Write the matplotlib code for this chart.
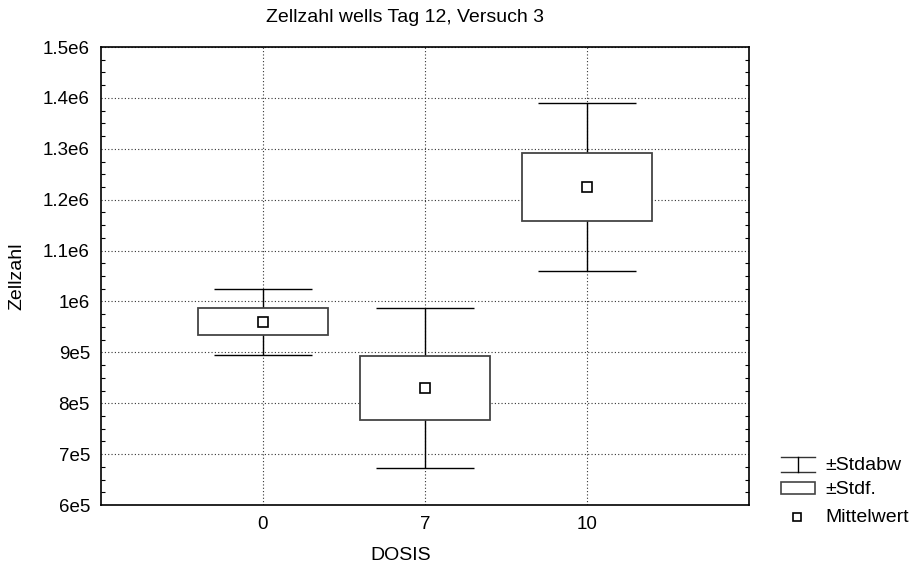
import matplotlib
matplotlib.use("Agg")
import matplotlib.pyplot as plt
from matplotlib.lines import Line2D
from matplotlib.patches import Rectangle
from matplotlib.ticker import MultipleLocator
import numpy as np

plt.rcParams["font.family"] = ["Liberation Sans", "DejaVu Sans"]

# ── data ──────────────────────────────────────
dosis = ["0", "7", "10"]
mittelwert = [9.60e5, 8.30e5, 1.225e6]
stdf = [2.65e4, 6.3e4, 6.7e4]        # ±Stdf. (box)
stdabw = [6.5e4, 1.57e5, 1.65e5]     # ±Stdabw (whiskers)
yticks = [6e5, 7e5, 8e5, 9e5, 1e6, 1.1e6, 1.2e6, 1.3e6, 1.4e6, 1.5e6]
ytick_labels = ["6e5", "7e5", "8e5", "9e5", "1e6", "1.1e6", "1.2e6", "1.3e6", "1.4e6", "1.5e6"]

W, H = 916, 568
FS = 14
fig = plt.figure(figsize=(W / 100, H / 100), dpi=100)


def px(x, y):
    """pixel (from top-left) -> figure fraction"""
    return x / W, 1 - y / H


ax = fig.add_axes([101 / W, 1 - 505 / H, (749 - 101) / W, (505 - 47) / H])

x = np.arange(len(dosis))
m = np.array(mittelwert)
se = np.array(stdf)
sd = np.array(stdabw)

box_c = "#444444"
# whiskers
ax.vlines(x, m - sd, m + sd, color="black", lw=1.0, zorder=2)
ax.hlines(m - sd, x - 0.3, x + 0.3, color="black", lw=1.0, zorder=2)
ax.hlines(m + sd, x - 0.3, x + 0.3, color="black", lw=1.0, zorder=2)
# boxes
ax.bar(x, 2 * se, bottom=m - se, width=0.8, color="white",
       edgecolor=box_c, linewidth=1.3, zorder=3)
# means
ax.plot(x, m, ls="none", marker="s", ms=7, mfc="white", mec="black",
        mew=1.2, zorder=4)

ax.set_xlim(-1, 3)
ax.set_ylim(6e5, 1.5e6)
ax.set_xticks(x)
ax.set_xticklabels(dosis, fontsize=FS - 0.5)
ax.set_yticks(yticks)
ax.set_yticklabels(ytick_labels, fontsize=FS - 0.5)
ax.yaxis.set_minor_locator(MultipleLocator(2.5e4))
ax.tick_params(axis="both", which="major", length=0, pad=8)
ax.tick_params(axis="y", which="minor", direction="in", length=3,
               left=True, right=True, width=0.8)
ax.grid(True, which="major", ls=(0, (1, 2)), color="#333333", lw=0.8, zorder=0)
ax.set_axisbelow(True)
for s in ax.spines.values():
    s.set_linewidth(1.2)
    s.set_color("black")

fig.text(*px(405, 18), "Zellzahl wells Tag 12, Versuch 3", ha="center",
         va="center", fontsize=FS)
fig.text(*px(401, 555), "DOSIS", ha="center", va="center", fontsize=FS)
fig.text(*px(17, 276), "Zellzahl", ha="center", va="center", rotation=90,
         fontsize=FS)

# ── legend (drawn by hand, Statistica style) ──
tf = fig.transFigure
for yy in (457, 472):
    fig.add_artist(Line2D(*zip(px(781, yy), px(815, yy)), color="#333333",
                          lw=1.0, transform=tf))
fig.add_artist(Line2D(*zip(px(798, 457), px(798, 472)), color="black",
                      lw=1.0, transform=tf))
x0, y0 = px(781, 494)
fig.add_artist(Rectangle((x0, y0), 34 / W, 12 / H, facecolor="white",
                         edgecolor=box_c, lw=1.2, transform=tf))
fig.add_artist(Line2D([px(797, 517)[0]], [px(797, 517)[1]], marker="s",
                      ms=6, mfc="white", mec="black", mew=1.2, ls="none",
                      transform=tf))
for yy, lab in [(465, "±Stdabw"), (489, "±Stdf."), (517, "Mittelwert")]:
    fig.text(*px(825, yy), lab, ha="left", va="center", fontsize=FS)

fig.savefig("out.png", dpi=100)
